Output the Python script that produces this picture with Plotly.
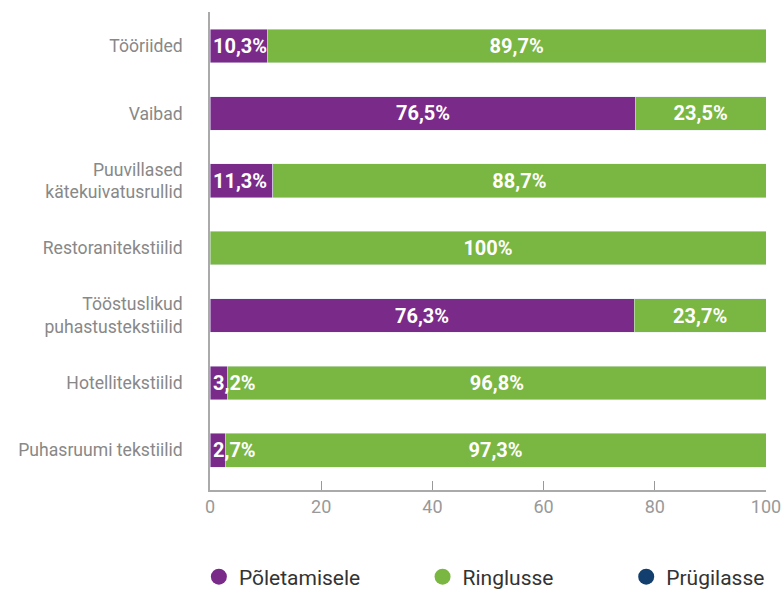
import plotly.graph_objects as go

categories = ["Tööriided", "Vaibad", "Puuvillased<br>kätekuivatusrullid", "Restoranitekstiilid",
              "Tööstuslikud<br>puhastustekstiilid", "Hotellitekstiilid", "Puhasruumi tekstiilid"]
poletamisele = [10.3, 76.5, 11.3, 0, 76.3, 3.2, 2.7]
ringlusse = [89.7, 23.5, 88.7, 100, 23.7, 96.8, 97.3]
prugilasse = [0, 0, 0, 0, 0, 0, 0]
series_names = ["Põletamisele", "Ringlusse", "Prügilasse"]
colors = ["#7a2a88", "#7ab642", "#123f6e"]
x_ticks = [0, 20, 40, 60, 80, 100]
legend_pad = [11, 13, 0]  # non-breaking spaces after each legend name for spacing

def fmt(v):
    if v == 0:
        return ""
    if float(v).is_integer():
        return f"{int(v)}%"
    return f"{v:.1f}".replace(".", ",") + "%"

FONT = "Roboto"
label_font = dict(family=FONT, size=20, color="white", weight="bold")

fig = go.Figure()
fig.add_trace(go.Bar(y=categories, x=poletamisele, orientation="h", marker_color=colors[0],
                     width=0.5, showlegend=False, hoverinfo="skip"))
fig.add_trace(go.Bar(y=categories, x=ringlusse, orientation="h", marker_color=colors[1],
                     width=0.5, showlegend=False, text=[fmt(v) for v in ringlusse],
                     textposition="inside", insidetextanchor="middle", textfont=label_font,
                     constraintext="none", hoverinfo="skip"))
fig.add_trace(go.Bar(y=categories, x=prugilasse, orientation="h", marker_color=colors[2],
                     width=0.5, showlegend=False, hoverinfo="skip"))

# purple labels as annotations (small values left-anchored)
for c, v in zip(categories, poletamisele):
    if v == 0:
        continue
    if v < 15:
        fig.add_annotation(x=0, y=c, text=fmt(v), xanchor="left", xshift=1, showarrow=False,
                           font=label_font)
    else:
        fig.add_annotation(x=v / 2, y=c, text=fmt(v), xanchor="center", showarrow=False,
                           font=label_font)

# legend entries with circle markers
for name, col, pad in zip(series_names, colors, legend_pad):
    fig.add_trace(go.Scatter(x=[None], y=[None], mode="markers", name=name + "\u00a0" * pad,
                             marker=dict(symbol="circle", size=22, color=col)))

fig.update_layout(
    barmode="stack",
    width=784, height=590,
    margin=dict(l=210, r=18, t=12, b=100, autoexpand=False),
    plot_bgcolor="white", paper_bgcolor="white",
    font=dict(family=FONT, color="#888888", size=16),
    xaxis=dict(range=[0, 100], tickvals=x_ticks, ticks="inside", ticklen=9, tickcolor="#999999",
               showline=True, linecolor="#aaaaaa", linewidth=1.5, showgrid=False, zeroline=False,
               tickfont=dict(size=18, color="#999999"), fixedrange=True, automargin=False),
    yaxis=dict(categoryorder="array", categoryarray=categories, range=[6.59, -0.505],
               showline=True, linecolor="#aaaaaa", linewidth=1.5, showgrid=False, ticks="",
               ticklabelstandoff=22, tickfont=dict(size=17.6, color="#888888"), automargin=False),
    legend=dict(orientation="h", traceorder="normal", x=-0.02, xanchor="left",
                y=-0.182, yanchor="middle",
                font=dict(size=21, color="#333333"), itemsizing="trace"),
    showlegend=True,
)

# remove the browser's default 8px body margin so the figure fills the window exactly
fig.write_html("out.html", config={"displayModeBar": False},
               post_script="document.body.style.margin='0px';")
